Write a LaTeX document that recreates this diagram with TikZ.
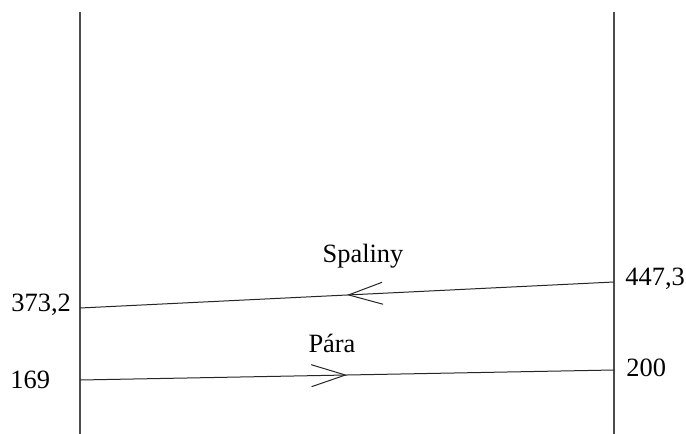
\documentclass[tikz,border=0pt]{standalone}
\usepackage{fontspec}
\setmainfont{Liberation Serif}
\usetikzlibrary
  {
    arrows.meta,              % open arrow heads
    decorations.markings,     % arrow in the middle of a line
  }

\begin{document}
\begin{tikzpicture}
    [
      x=0.5pt, y=-0.5pt,
      wall/.style=
        {
          draw=black!70,
          line width=0.6pt,
        },
      stream/.style=
        {
          draw=black!85,
          line width=0.5pt,
        },
      forward/.style=
        {
          stream,
          postaction={decorate},
          decoration={markings,
            mark=at position 0.5 with {\arrow{Straight Barb[length=17pt,width=11pt]}}},
        },
      backward/.style=
        {
          stream,
          postaction={decorate},
          decoration={markings,
            mark=at position 0.5 with {\arrowreversed{Straight Barb[length=17pt,width=11pt]}}},
        },
      value/.style=
        {
          font=\fontsize{13.2}{15}\selectfont,
          inner sep=0pt,
        },
    ]
    \useasboundingbox (0,0) rectangle (686,434);
    % walls
    \coordinate (left top)     at ( 80,12);
    \coordinate (left bottom)  at ( 80,434);
    \coordinate (right top)    at (614,12);
    \coordinate (right bottom) at (614,434);
    \draw[wall] (left top) -- (left bottom);
    \draw[wall] (right top) -- (right bottom);
    % flue gas and steam
    \coordinate (gas in)    at (614,282);
    \coordinate (gas out)   at ( 80,308);
    \coordinate (steam in)  at ( 80,380);
    \coordinate (steam out) at (614,370);
    \draw[backward] (gas out) -- (gas in);
    \draw[forward] (steam in) -- (steam out);
    % labels
    \node[value, anchor=west] (t gas out)   at ( 11,305) {373,2};
    \node[value, anchor=west] (t gas in)    at (625,279) {447,3};
    \node[value, anchor=west] (t steam in)  at ( 10,380) {169};
    \node[value, anchor=west] (t steam out) at (626,368) {200};
    \node[value] (gas)   at (363,256) {Spaliny};
    \node[value] (steam) at (332,343) {Pára};
  \end{tikzpicture}
\end{document}
